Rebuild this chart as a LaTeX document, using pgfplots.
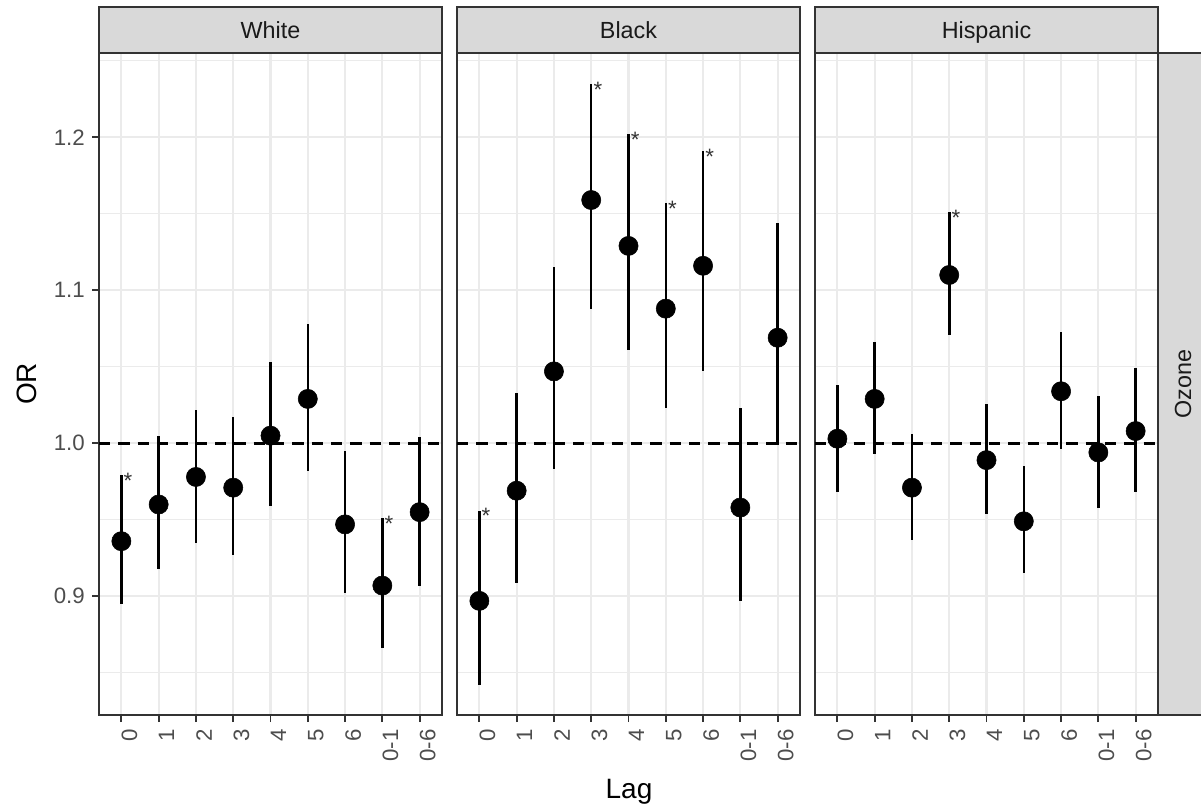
\documentclass[border=0pt]{standalone}
\usepackage{fontspec}
\setmainfont{Liberation Sans}
\usepackage{pgfplots}
\usepackage{pgfplotstable}
\pgfplotsset{compat=1.18}

\definecolor{gray10}{HTML}{1A1A1A}
\definecolor{gray20}{HTML}{333333}
\definecolor{gray30}{HTML}{4D4D4D}
\definecolor{gray85}{HTML}{D9D9D9}
\definecolor{gray92}{HTML}{EBEBEB}

% x = lag index (1..9 -> 0,1,...,6,0-1,0-6), y = OR, lo/hi = 95% CI
\pgfplotstableread{
x y lo hi
1 0.936 0.895 0.979
2 0.960 0.918 1.005
3 0.978 0.935 1.022
4 0.971 0.927 1.017
5 1.005 0.959 1.053
6 1.029 0.982 1.078
7 0.947 0.902 0.995
8 0.907 0.866 0.951
9 0.955 0.907 1.004
}\white
\pgfplotstableread{
x y lo hi
1 0.897 0.842 0.956
2 0.969 0.909 1.033
3 1.047 0.983 1.115
4 1.159 1.088 1.235
5 1.129 1.061 1.202
6 1.088 1.023 1.157
7 1.116 1.047 1.191
8 0.958 0.897 1.023
9 1.069 0.999 1.144
}\black
\pgfplotstableread{
x y lo hi
1 1.003 0.968 1.038
2 1.029 0.993 1.066
3 0.971 0.937 1.006
4 1.110 1.071 1.151
5 0.989 0.954 1.026
6 0.949 0.915 0.985
7 1.034 0.996 1.073
8 0.994 0.958 1.031
9 1.008 0.968 1.049
}\hisp

\newcommand{\tickfont}{\fontsize{16.7pt}{18pt}\selectfont}
\newcommand{\stripfont}{\fontsize{17.5pt}{19pt}\selectfont}
\newcommand{\titlefont}{\fontsize{21pt}{24pt}\selectfont}

\pgfplotsset{
  panel/.style={
    scale only axis, width=257.25pt, height=496.5pt,
    anchor=south west,
    xmin=0.4, xmax=9.6, ymin=0.8224, ymax=1.2551,
    xtick={1,...,9}, xticklabels={0,1,2,3,4,5,6,0-1,0-6},
    ytick={0.9,1.0,1.1,1.2},
    minor ytick={0.85,0.95,1.05,1.15,1.25},
    xmajorgrids, ymajorgrids, yminorgrids,
    major grid style={gray92, line width=1.6pt},
    minor grid style={gray92, line width=0.9pt},
    axis line style={gray20, line width=1.5pt},
    tick align=outside, xtick pos=bottom, ytick pos=left,
    major tick length=5.25pt, minor tick length=0pt,
    tick style={gray20, line width=1.4pt},
    ticklabel style={font=\tickfont, text=gray30, inner sep=0pt},
    xticklabel style={rotate=90, anchor=north east},
    yticklabel style={anchor=east},
    xticklabel shift=5.25pt, yticklabel shift=5.25pt,
    clip=false,
  },
  ci/.style={forget plot, only marks, mark=none,
    error bars/.cd, y dir=both, y explicit, error mark=none,
    error bar style={black, line width=1.9pt, solid}},
  pt/.style={only marks, mark=*, mark size=7.2pt, black, mark options={fill=black, draw=black}},
  refline/.style={black, line width=2pt, dash pattern=on 8.5pt off 6pt},
  stars/.style={draw=none, mark=none, nodes near coords={*},
    every node near coord/.append style={font=\tickfont, text=gray20, anchor=base, xshift=5pt, yshift=-10pt, inner sep=0pt}},
}

\begin{document}
\begin{tikzpicture}
\useasboundingbox (0,0) rectangle (900.75pt,605.25pt);

% White
\begin{axis}[panel, at={(74.25pt,69pt)}, yticklabels={0.9,1.0,1.1,1.2}]
\addplot[refline] coordinates {(0.4,1) (9.6,1)};
\addplot[ci] table[x=x, y=y, y error plus expr=\thisrow{hi}-\thisrow{y}, y error minus expr=\thisrow{y}-\thisrow{lo}] {\white};
\addplot[pt] table[x=x, y=y] {\white};
\addplot[stars] coordinates {(1,0.979) (8,0.951)};
\end{axis}

% Black
\begin{axis}[panel, at={(342.75pt,69pt)}, yticklabels={}, ytick style={draw=none}]
\addplot[refline] coordinates {(0.4,1) (9.6,1)};
\addplot[ci] table[x=x, y=y, y error plus expr=\thisrow{hi}-\thisrow{y}, y error minus expr=\thisrow{y}-\thisrow{lo}] {\black};
\addplot[pt] table[x=x, y=y] {\black};
\addplot[stars] coordinates {(1,0.956) (4,1.235) (5,1.202) (6,1.157) (7,1.191)};
\end{axis}

% Hispanic
\begin{axis}[panel, at={(611.25pt,69pt)}, yticklabels={}, ytick style={draw=none}]
\addplot[refline] coordinates {(0.4,1) (9.6,1)};
\addplot[ci] table[x=x, y=y, y error plus expr=\thisrow{hi}-\thisrow{y}, y error minus expr=\thisrow{y}-\thisrow{lo}] {\hisp};
\addplot[pt] table[x=x, y=y] {\hisp};
\addplot[stars] coordinates {(4,1.151)};
\end{axis}

% facet strips
\foreach \xl/\lab in {74.25/White, 342.75/Black, 611.25/Hispanic}{
  \draw[fill=gray85, draw=gray20, line width=1.5pt] (\xl pt,565.5pt) rectangle ++(257.25pt,34.5pt);
  \node[font=\stripfont, text=gray10, anchor=base, inner sep=0pt] at (\xl pt+128.625pt,576.5pt) {\lab};
}
\draw[fill=gray85, draw=gray20, line width=1.5pt] (868.5pt,69pt) rectangle (912pt,565.5pt);
\node[font=\stripfont, text=gray10, rotate=90] at (887.25pt,317.25pt) {Ozone};

% axis titles
\node[font=\titlefont, rotate=90] at (20.25pt,317.25pt) {OR};
\node[font=\titlefont, anchor=base] at (471.75pt,6.75pt) {Lag};
\end{tikzpicture}
\end{document}
